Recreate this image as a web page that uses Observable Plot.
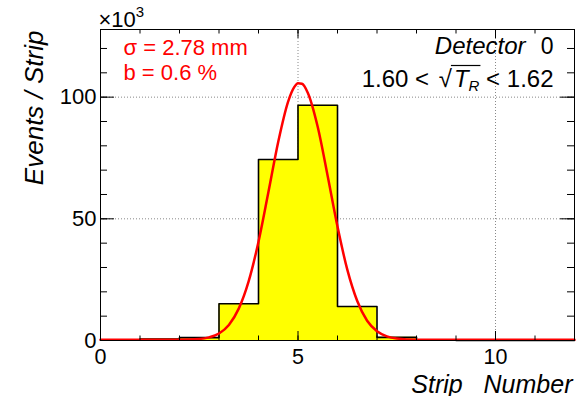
<!DOCTYPE html>
<html><head><meta charset="utf-8">
<script src="https://cdn.jsdelivr.net/npm/d3@7"></script>
<script src="https://cdn.jsdelivr.net/npm/@observablehq/plot@0.6"></script>
<style>body{margin:0;background:#fff}</style>
</head><body><div id="chart"></div>
<script>
// ---- data (counts in units of 10^3) ----
const binEdges = [0,1,2,3,4,5,6,7,8,9,10,11,12];
const binCounts = [0.2,0.6,1.2,15.1,74.4,96.7,14.0,1.3,0.2,0,0,0];
const fitX = [0,1,2,2.5,2.75,3,3.25,3.5,3.75,4,4.25,4.5,4.75,4.9,5,5.1,5.25,5.5,5.75,6,6.25,6.5,6.75,7,7.25,7.5,8,9,10,11,12];
const fitY = [0.3,0.3,0.3,0.6,1.3,2.9,6.4,13.1,24.3,40.6,60.9,81.7,98.2,104.0,105.7,105.5,101.7,87.7,67.7,46.8,29.0,16.2,8.1,3.8,1.7,0.8,0.3,0.3,0.3,0.3,0.3];
const xLabelTicks = [0,5,10];
const yLabelTicks = [0,50,100];
const xMinorTicks = [0,1,2,3,4,5,6,7,8,9,10,11,12];
const yMinorTicks = [0,10,20,30,40,50,60,70,80,90,100,110,120];
const xGridTicks = [5,10];
const yGridTicks = [50,100];
const sigmaText = "σ = 2.78 mm";
const bgText = "b = 0.6 %";
const detText = "Detector";
const detNum = "0";
const rangeText = "1.60 < √TR < 1.62";
const xTitle = "Strip   Number";
const yTitle = "Events / Strip";
const expText = "×10^3";

const W = 586, H = 396, ML = 100, MR = 12, MT = 29, MB = 56;
const FW = W - ML - MR, FH = H - MT - MB;

const hist = binEdges.map((e, i) => ({x: e, y: binCounts[Math.min(i, binCounts.length - 1)]}));
const fit = fitX.map((x, i) => ({x, y: fitY[i]}));

const font = "'Liberation Sans', Arial, Helvetica, sans-serif";
const chart = Plot.plot({
  width: W, height: H,
  marginLeft: ML, marginRight: MR, marginTop: MT, marginBottom: MB,
  x: {domain: [0, 12]},
  y: {domain: [0, 127.8]},
  style: {fontFamily: font, background: "#fff", color: "#000", overflow: "visible"},
  marks: [
    Plot.gridX(xGridTicks, {stroke: "#888", strokeOpacity: 1, strokeDasharray: "1,2"}),
    Plot.gridY(yGridTicks, {stroke: "#888", strokeOpacity: 1, strokeDasharray: "1,2"}),
    Plot.areaY(hist, {x: "x", y: "y", curve: "step-after", fill: "#ffff00"}),
    Plot.lineY(hist, {x: "x", y: "y", curve: "step-after", stroke: "#000", strokeWidth: 1.6}),
    Plot.lineY(fit, {x: "x", y: "y", curve: "monotone-x", stroke: "#ff0000", strokeWidth: 2.5}),
    // inward ticks: bottom/top
    Plot.tickX(xMinorTicks, {x: d => d, insetTop: FH - 4.5, stroke: "#000"}),
    Plot.tickX(xLabelTicks, {x: d => d, insetTop: FH - 9, stroke: "#000"}),
    Plot.tickX(xMinorTicks, {x: d => d, insetBottom: FH - 4.5, stroke: "#000"}),
    Plot.tickX(xLabelTicks, {x: d => d, insetBottom: FH - 9, stroke: "#000"}),
    // inward ticks: left/right
    Plot.tickY(yMinorTicks, {y: d => d, insetRight: FW - 7, stroke: "#000"}),
    Plot.tickY(yLabelTicks, {y: d => d, insetRight: FW - 14, stroke: "#000"}),
    Plot.tickY(yMinorTicks, {y: d => d, insetLeft: FW - 7, stroke: "#000"}),
    Plot.tickY(yLabelTicks, {y: d => d, insetLeft: FW - 14, stroke: "#000"}),
    Plot.frame({stroke: "#000"}),
    Plot.axisX(xLabelTicks, {tickSize: 0, tickPadding: 8, fontSize: 21.5, label: null}),
    Plot.axisY(yLabelTicks, {tickSize: 0, tickPadding: 4, fontSize: 22, label: null}),
    Plot.text([expText], {frameAnchor: "top-left", text: d => d, textAnchor: "start", lineAnchor: "bottom", dx: -2, dy: -3, fontSize: 22}),
    Plot.text([sigmaText], {frameAnchor: "top-left", text: d => d, textAnchor: "start", lineAnchor: "bottom", dx: 23, dy: 25, fontSize: 22, fill: "#ff0000"}),
    Plot.text([bgText], {frameAnchor: "top-left", text: d => d, textAnchor: "start", lineAnchor: "bottom", dx: 23, dy: 50, fontSize: 22, fill: "#ff0000"}),
    Plot.text([detText], {frameAnchor: "top-right", text: d => d, textAnchor: "end", lineAnchor: "bottom", dx: -49, dy: 24, fontSize: 24, fontStyle: "italic"}),
    Plot.text([detNum], {frameAnchor: "top-right", text: d => d, textAnchor: "end", lineAnchor: "bottom", dx: -21, dy: 24, fontSize: 23}),
    Plot.text([rangeText], {frameAnchor: "top-right", text: d => d, textAnchor: "end", lineAnchor: "bottom", dx: -21, dy: 57, fontSize: 24}),
    Plot.text([xTitle], {frameAnchor: "bottom-right", text: d => d, textAnchor: "end", lineAnchor: "bottom", dx: -2, dy: 52, fontSize: 25, fontStyle: "italic"}),
    Plot.text([yTitle], {frameAnchor: "top-left", text: d => d, textAnchor: "end", lineAnchor: "bottom", rotate: -90, dx: -58, dy: 1, fontSize: 26, fontStyle: "italic"})
  ]
});
document.getElementById("chart").appendChild(chart);

const ns = "http://www.w3.org/2000/svg";
const findText = s => [...chart.querySelectorAll("text")].find(e => e.textContent === s);
const makeAdder = el => (s, attrs = {}) => {
  const ts = document.createElementNS(ns, "tspan");
  ts.textContent = s;
  for (const k in attrs) ts.setAttribute(k, attrs[k]);
  el.appendChild(ts);
  return ts;
};

// x10^3 multiplier with a real superscript
const eEl = findText(expText);
if (eEl) {
  eEl.textContent = "";
  eEl.setAttribute("font-size", "22");
  const add = makeAdder(eEl);
  add("×10");
  add("3", {"font-size": "15", "dy": "-10"});
}

// rich text for the sqrt(T_R) range label
const tEl = findText(rangeText);
if (tEl) {
  tEl.textContent = "";
  const add = makeAdder(tEl);
  add("1.60 < ");
  add("√", {"dx": "3"});
  add("T", {"font-style": "italic", "dx": "2"});
  add("R", {"font-style": "italic", "font-size": "15", "dy": "4"});
  add(" < 1.62", {"dy": "-4"});
  try {
    const r = tEl.getExtentOfChar(7);
    const e = tEl.getExtentOfChar(9);
    const line = document.createElementNS(ns, "line");
    const yTop = r.y + 1;
    line.setAttribute("x1", r.x + r.width - 1);
    line.setAttribute("x2", e.x + e.width + 1);
    line.setAttribute("y1", yTop);
    line.setAttribute("y2", yTop);
    line.setAttribute("stroke", "#000");
    line.setAttribute("stroke-width", "1.2");
    const tr = tEl.getAttribute("transform");
    if (tr) line.setAttribute("transform", tr);
    tEl.parentNode.appendChild(line);
  } catch (err) {}
}
</script>
</body></html>
